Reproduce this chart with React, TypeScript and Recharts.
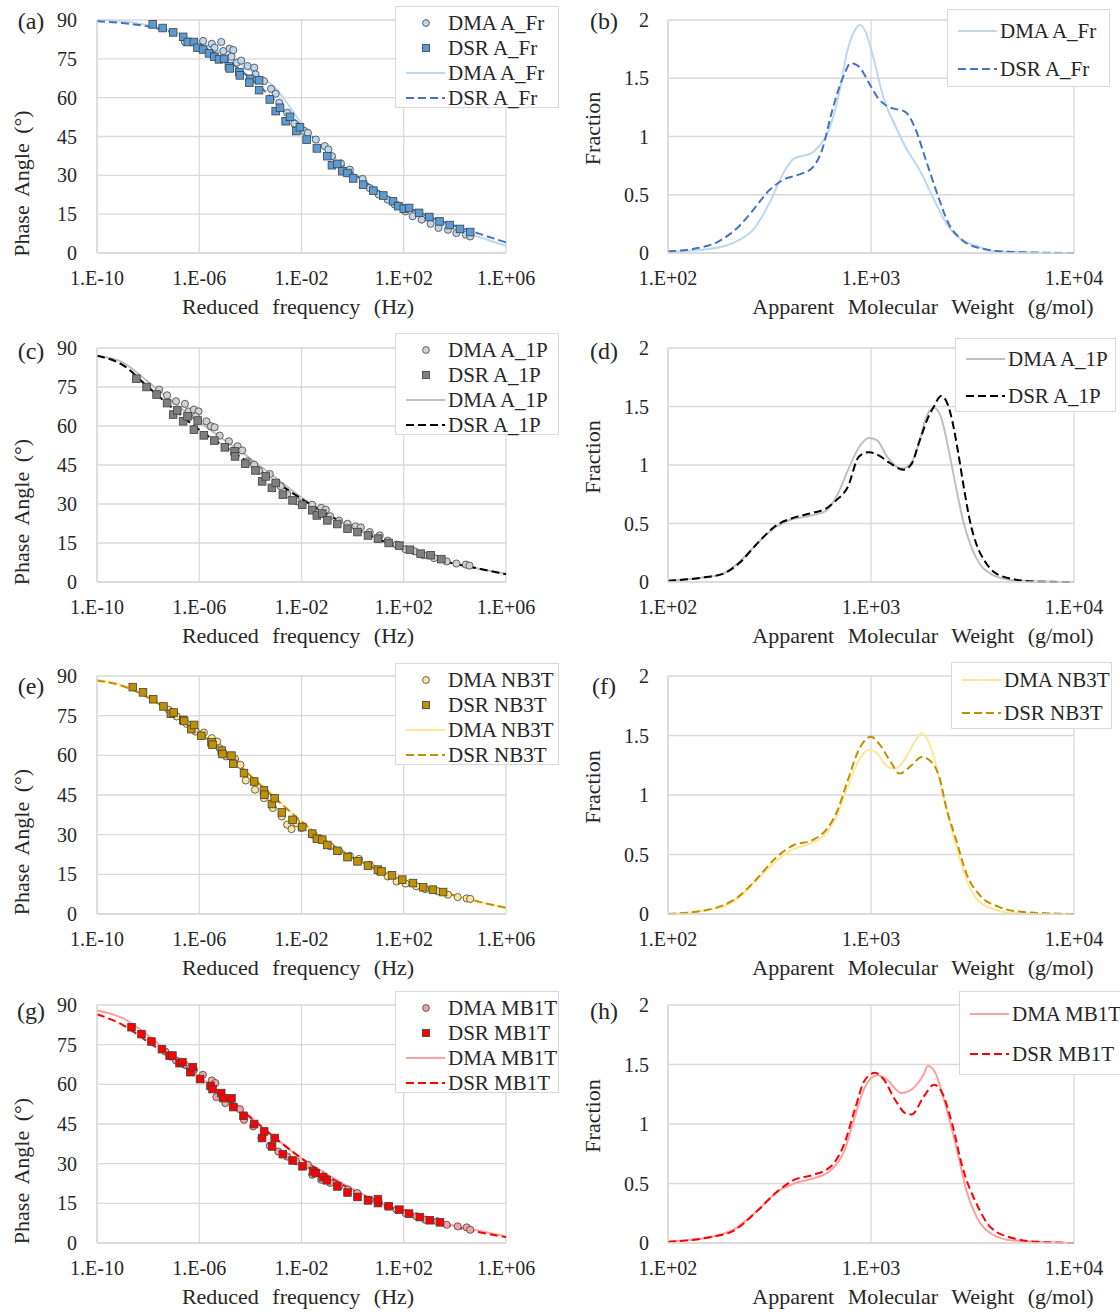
import React from 'react';
import { CartesianGrid, ComposedChart, Label, Line, Scatter, XAxis, YAxis } from 'recharts';

type Pt = [number, number];

// x = log10(reduced frequency, Hz), y = phase angle (deg)
const aFrDmaPoints: Pt[] = [
  [-6.56, 81.5], [-5.85, 81.9], [-5.51, 80.8], [-5.4, 79.3], [-5.14, 81.5], [-5.06, 78.0], [-4.81, 78.9],
  [-4.67, 78.4], [-4.74, 75.8], [-4.53, 73.5], [-4.36, 74.3], [-4.11, 72.2], [-3.85, 71.6], [-3.8, 69.0],
  [-3.47, 66.4], [-3.19, 63.4], [-3.01, 61.5], [-2.87, 58.0], [-2.56, 54.2], [-2.28, 50.0], [-1.89, 47.1],
  [-1.75, 46.4], [-1.44, 43.8], [-1.09, 41.3], [-0.95, 40.0], [-0.81, 37.4], [-0.46, 34.6], [-0.11, 32.2],
  [0.39, 28.6], [0.67, 25.1], [1.02, 22.6], [1.37, 20.6], [1.65, 18.7], [2.07, 16.1], [2.35, 14.2],
  [2.7, 12.9], [3.05, 11.3], [3.36, 9.7], [3.73, 9.0], [4.06, 7.7], [4.43, 7.1], [4.6, 6.4],
];
const aFrDsrPoints: Pt[] = [
  [-7.82, 88.3], [-7.43, 86.9], [-7.02, 85.2], [-6.63, 83.5], [-6.45, 81.5], [-6.21, 81.5], [-6.07, 79.3],
  [-5.85, 78.6], [-5.62, 77.1], [-5.41, 75.8], [-5.23, 74.8], [-5.03, 75.0], [-4.84, 72.2], [-4.81, 71.3],
  [-4.43, 69.9], [-4.41, 68.6], [-4.01, 67.3], [-4.04, 65.8], [-3.66, 66.7], [-3.66, 62.9], [-3.24, 59.3],
  [-3.01, 54.8], [-2.84, 56.1], [-2.62, 50.9], [-2.45, 52.6], [-2.2, 47.1], [-2.06, 48.6], [-1.8, 43.8],
  [-1.4, 40.4], [-0.99, 37.4], [-0.81, 33.9], [-0.6, 34.4], [-0.4, 31.6], [-0.2, 30.9], [0.02, 28.8],
  [0.41, 26.4], [0.81, 24.1], [1.2, 22.2], [1.58, 20.0], [1.79, 18.1], [2.0, 17.1], [2.21, 17.4],
  [2.6, 15.5], [3.0, 13.9], [3.4, 12.2], [3.8, 10.8], [4.2, 9.3], [4.6, 8.1],
];
const aFrDmaFit: Pt[] = [
  [-10, 90], [-9, 89.5], [-8, 88], [-7, 85.5], [-6, 81.5], [-5, 76.5], [-4, 70.5], [-3, 63.5], [-2.5, 57],
  [-2, 50], [-1.5, 44], [-1, 39.5], [-0.5, 35], [0, 31], [0.5, 27.5], [1, 24], [2, 18], [3, 13], [4, 9.5],
  [5, 6], [6, 2.8],
];
const aFrDsrFit: Pt[] = [
  [-10, 89.5], [-9, 88.8], [-8, 87.5], [-7, 85], [-6, 80.5], [-5, 75], [-4, 67.5], [-3, 58.5], [-2, 49],
  [-1, 39.5], [0, 31], [1, 24], [2, 18.5], [3, 14], [4, 10.5], [5, 7.3], [6, 4.1],
];

const a1pDmaPoints: Pt[] = [
  [-7.57, 74.0], [-7.26, 71.8], [-6.91, 69.5], [-6.56, 68.5], [-6.42, 65.6], [-6.21, 66.3], [-6.03, 65.6],
  [-6.14, 63.7], [-5.72, 61.8], [-5.54, 59.9], [-5.4, 59.5], [-5.2, 56.3], [-4.84, 54.1], [-4.5, 52.2],
  [-4.32, 50.6], [-4.11, 46.4], [-3.85, 45.1], [-3.66, 42.8], [-3.24, 41.5], [-2.81, 36.8], [-2.56, 33.8],
  [-2.17, 31.0], [-1.58, 29.7], [-1.23, 28.5], [-1.05, 27.8], [-0.88, 25.3], [-0.53, 23.6], [-0.2, 22.4],
  [0.11, 21.4], [0.32, 21.0], [0.67, 19.2], [1.06, 17.9], [1.37, 15.9], [1.72, 14.4], [2.07, 12.6],
  [2.42, 11.8], [2.77, 10.3], [3.19, 9.2], [3.68, 7.9], [4.06, 7.1], [4.43, 6.7], [4.57, 6.3],
];
const a1pDsrPoints: Pt[] = [
  [-8.46, 78.2], [-8.06, 75.0], [-7.67, 72.1], [-7.26, 68.8], [-7.02, 64.4], [-6.86, 66.0], [-6.63, 61.8],
  [-6.46, 63.7], [-6.21, 58.6], [-6.06, 62.1], [-5.82, 56.4], [-5.41, 54.4], [-5.0, 51.8], [-4.62, 50.3],
  [-4.6, 48.3], [-4.2, 45.5], [-3.8, 42.9], [-3.54, 38.7], [-3.4, 40.6], [-3.16, 36.2], [-3.01, 38.1],
  [-2.73, 33.6], [-2.35, 31.4], [-1.97, 29.7], [-1.58, 27.6], [-1.4, 25.6], [-1.19, 26.3], [-0.99, 23.7],
  [-0.6, 22.3], [-0.2, 20.5], [0.19, 19.2], [0.6, 17.9], [0.99, 16.7], [1.41, 15.0], [1.83, 14.0],
  [2.24, 12.4], [2.66, 10.9], [3.05, 10.3], [3.47, 8.8],
];
const a1pDmaFit: Pt[] = [
  [-10, 87], [-9, 84.5], [-8, 77], [-7, 69], [-6, 61.5], [-5, 54.5], [-4, 47.5], [-3, 40], [-2, 32.5],
  [-1, 26], [0, 21], [1, 16.5], [2, 12.5], [3, 9.5], [4, 7], [5, 5], [6, 3.2],
];
const a1pDsrFit: Pt[] = [
  [-10, 87], [-9, 83.5], [-8, 75], [-7, 66.5], [-6, 58.5], [-5, 52], [-4, 45.5], [-3, 38.5], [-2, 32],
  [-1, 26], [0, 21], [1, 16.5], [2, 12.5], [3, 9.5], [4, 7], [5, 5], [6, 3],
];

const nb3tDmaPoints: Pt[] = [
  [-7.19, 77.2], [-6.88, 74.7], [-6.49, 71.9], [-6.14, 69.0], [-5.82, 68.6], [-5.51, 66.5], [-5.3, 65.2],
  [-5.2, 62.7], [-4.95, 59.6], [-4.6, 58.6], [-4.39, 56.4], [-4.18, 50.5], [-3.82, 47.0], [-3.47, 43.8],
  [-3.12, 40.1], [-2.77, 36.9], [-2.56, 33.8], [-2.39, 32.1], [-2.21, 34.4], [-2.0, 32.5], [-1.58, 30.0],
  [-1.23, 28.3], [-0.88, 25.6], [-0.53, 23.7], [-0.11, 22.0], [0.25, 20.8], [0.67, 18.6], [1.02, 16.1],
  [1.37, 14.2], [1.72, 12.3], [2.07, 11.5], [2.49, 10.5], [2.84, 9.4], [3.33, 8.6], [3.73, 7.3],
  [4.11, 6.4], [4.46, 5.9], [4.6, 5.7],
];
const nb3tDsrPoints: Pt[] = [
  [-8.6, 85.8], [-8.2, 83.8], [-7.8, 81.2], [-7.4, 78.5], [-7.11, 75.7], [-7.0, 76.2], [-6.63, 73.4],
  [-6.59, 73.0], [-6.31, 69.9], [-6.2, 71.5], [-5.92, 67.4], [-5.52, 64.9], [-5.48, 64.0], [-5.12, 61.8],
  [-5.09, 60.5], [-4.74, 59.9], [-4.67, 56.8], [-4.25, 53.3], [-3.85, 50.1], [-3.47, 46.7], [-3.45, 45.1],
  [-3.16, 41.6], [-3.05, 43.8], [-2.77, 38.4], [-2.35, 35.6], [-1.97, 32.9], [-1.58, 30.4], [-1.4, 28.5],
  [-1.19, 28.1], [-0.99, 26.1], [-0.6, 23.9], [-0.2, 21.5], [0.19, 19.9], [0.6, 18.3], [0.99, 16.8],
  [1.13, 16.1], [1.54, 14.6], [1.94, 13.0], [2.36, 11.7], [2.76, 10.1], [3.14, 9.2], [3.54, 8.3],
];
const nb3tDmaFit: Pt[] = [
  [-10, 88.5], [-9, 86.5], [-8, 82], [-7, 76], [-6, 68.5], [-5, 61], [-4, 52.5], [-3, 44], [-2, 35],
  [-1, 27.5], [0, 21.5], [1, 16.5], [2, 12.5], [3, 9.5], [4, 7], [5, 4.5], [6, 2.5],
];
const nb3tDsrFit: Pt[] = [
  [-10, 88.3], [-9, 86.2], [-8, 81.8], [-7, 75.8], [-6, 68.5], [-5, 61], [-4, 52.3], [-3, 43.5], [-2, 35],
  [-1, 27.5], [0, 21.5], [1, 16.5], [2, 12.5], [3, 9.5], [4, 7], [5, 4.5], [6, 2.3],
];

const mb1tDmaPoints: Pt[] = [
  [-7.33, 72.4], [-7.12, 70.5], [-6.91, 69.0], [-6.56, 67.4], [-6.21, 65.5], [-5.86, 63.6], [-5.51, 61.5],
  [-5.37, 60.5], [-5.33, 55.2], [-4.98, 52.9], [-4.6, 51.4], [-4.41, 50.6], [-4.25, 46.6], [-3.89, 44.1],
  [-3.57, 39.7], [-3.24, 36.8], [-2.91, 34.6], [-2.56, 32.7], [-2.21, 30.9], [-1.75, 29.6], [-1.58, 25.8],
  [-1.23, 23.9], [-0.88, 22.7], [-0.53, 21.4], [-0.18, 20.2], [0.18, 18.9], [0.67, 16.4], [1.02, 15.1],
  [1.37, 13.9], [1.72, 12.6], [2.07, 11.3], [2.49, 10.1], [2.84, 8.8], [3.31, 8.2], [3.68, 6.9],
  [4.11, 6.3], [4.46, 5.9], [4.6, 5.0],
];
const mb1tDsrPoints: Pt[] = [
  [-8.65, 81.6], [-8.26, 79.0], [-7.87, 76.2], [-7.46, 73.3], [-7.16, 70.8], [-7.05, 70.9], [-6.77, 68.0],
  [-6.66, 68.4], [-6.35, 64.6], [-6.25, 66.5], [-5.97, 62.0], [-5.56, 59.4], [-5.48, 58.2], [-5.14, 56.7],
  [-5.06, 54.8], [-4.74, 54.7], [-4.67, 51.4], [-4.27, 48.1], [-3.85, 45.0], [-3.54, 39.7], [-3.46, 42.2],
  [-3.15, 36.5], [-3.05, 39.7], [-2.73, 33.6], [-2.35, 31.2], [-1.96, 29.0], [-1.55, 27.1], [-1.44, 26.4],
  [-1.16, 24.9], [-1.01, 23.7], [-0.6, 21.4], [-0.2, 19.1], [0.19, 17.4], [0.6, 16.1], [0.99, 15.1],
  [0.99, 16.6], [1.41, 13.9], [1.83, 12.6], [2.21, 11.1], [2.63, 9.8], [3.02, 8.6], [3.42, 7.8],
];
const mb1tDmaFit: Pt[] = [
  [-10, 88], [-9, 85], [-8, 78.5], [-7, 70.5], [-6, 63], [-5, 55.5], [-4, 47.5], [-3, 39.5], [-2, 32],
  [-1, 26], [0, 20.5], [1, 15.5], [2, 12], [3, 9], [4, 6.5], [5, 4.5], [6, 2.5],
];
const mb1tDsrFit: Pt[] = [
  [-10, 86.5], [-9, 82.5], [-8, 76], [-7, 69.5], [-6, 62], [-5, 55], [-4, 47.5], [-3, 39.5], [-2, 32],
  [-1, 25.5], [0, 20], [1, 15.5], [2, 11.5], [3, 8.5], [4, 6], [5, 4], [6, 2.2],
];

// x = log10(apparent molecular weight, g/mol), y = fraction
const aFrDmaMw: Pt[] = [
  [2.0, 0.01], [2.18, 0.03], [2.28, 0.06], [2.35, 0.11], [2.42, 0.2], [2.5, 0.43], [2.57, 0.69], [2.62, 0.81],
  [2.71, 0.86], [2.74, 0.91], [2.8, 1.09], [2.85, 1.43], [2.88, 1.71], [2.92, 1.91], [2.945, 1.96], [2.97, 1.91],
  [3.01, 1.69], [3.06, 1.34], [3.12, 1.09], [3.17, 0.91], [3.24, 0.71], [3.31, 0.46], [3.38, 0.23], [3.45, 0.11],
  [3.52, 0.06], [3.59, 0.02], [3.77, 0.005], [4.0, 0],
];
const aFrDsrMw: Pt[] = [
  [2.0, 0.014], [2.14, 0.04], [2.25, 0.1], [2.35, 0.23], [2.42, 0.37], [2.5, 0.54], [2.57, 0.63], [2.64, 0.67],
  [2.71, 0.73], [2.76, 0.89], [2.81, 1.23], [2.87, 1.54], [2.9, 1.63], [2.94, 1.6], [2.99, 1.46], [3.03, 1.34],
  [3.08, 1.26], [3.17, 1.21], [3.22, 1.06], [3.27, 0.8], [3.33, 0.49], [3.38, 0.26], [3.45, 0.11], [3.54, 0.04],
  [3.68, 0.01], [4.0, 0],
];
const a1pDmaMw: Pt[] = [
  [2.0, 0.01], [2.18, 0.04], [2.27, 0.07], [2.35, 0.17], [2.44, 0.33], [2.53, 0.47], [2.6, 0.53], [2.71, 0.57],
  [2.78, 0.61], [2.83, 0.73], [2.885, 0.95], [2.94, 1.15], [2.99, 1.23], [3.03, 1.21], [3.08, 1.07], [3.15, 0.97],
  [3.195, 1.01], [3.24, 1.21], [3.27, 1.4], [3.31, 1.49], [3.345, 1.41], [3.38, 1.15], [3.42, 0.8], [3.45, 0.55],
  [3.49, 0.32], [3.52, 0.2], [3.59, 0.07], [3.68, 0.02], [3.77, 0.006], [4.0, 0],
];
const a1pDsrMw: Pt[] = [
  [2.0, 0.01], [2.18, 0.04], [2.27, 0.07], [2.35, 0.16], [2.44, 0.33], [2.53, 0.48], [2.62, 0.55], [2.71, 0.59],
  [2.78, 0.63], [2.83, 0.7], [2.885, 0.81], [2.94, 1.07], [2.99, 1.11], [3.04, 1.08], [3.09, 1.02], [3.16, 0.96],
  [3.2, 1.01], [3.24, 1.21], [3.28, 1.4], [3.31, 1.5], [3.345, 1.59], [3.37, 1.55], [3.4, 1.38], [3.43, 1.1],
  [3.46, 0.78], [3.49, 0.5], [3.52, 0.32], [3.56, 0.18], [3.61, 0.08], [3.7, 0.025], [3.82, 0.003], [4.0, 0],
];
const nb3tDmaMw: Pt[] = [
  [2.0, 0], [2.18, 0.03], [2.27, 0.06], [2.35, 0.14], [2.44, 0.29], [2.53, 0.44], [2.6, 0.53], [2.71, 0.6],
  [2.78, 0.68], [2.83, 0.82], [2.885, 1.07], [2.94, 1.29], [2.99, 1.38], [3.03, 1.35], [3.08, 1.24], [3.12, 1.22],
  [3.17, 1.31], [3.22, 1.46], [3.25, 1.52], [3.27, 1.49], [3.31, 1.32], [3.345, 1.07], [3.38, 0.82], [3.42, 0.57],
  [3.47, 0.29], [3.52, 0.13], [3.59, 0.05], [3.7, 0.01], [4.0, 0],
];
const nb3tDsrMw: Pt[] = [
  [2.0, 0], [2.18, 0.03], [2.35, 0.15], [2.44, 0.3], [2.53, 0.47], [2.62, 0.58], [2.71, 0.62], [2.78, 0.71],
  [2.83, 0.85], [2.885, 1.12], [2.94, 1.38], [3.0, 1.49], [3.04, 1.43], [3.1, 1.27], [3.14, 1.18], [3.2, 1.25],
  [3.25, 1.32], [3.29, 1.29], [3.34, 1.13], [3.37, 0.9], [3.42, 0.62], [3.47, 0.34], [3.54, 0.15], [3.63, 0.06],
  [3.73, 0.02], [4.0, 0],
];
const mb1tDmaMw: Pt[] = [
  [2.0, 0.01], [2.21, 0.05], [2.32, 0.11], [2.44, 0.27], [2.53, 0.42], [2.62, 0.5], [2.71, 0.54], [2.8, 0.61],
  [2.87, 0.78], [2.92, 1.06], [2.97, 1.31], [3.03, 1.41], [3.08, 1.37], [3.15, 1.26], [3.2, 1.29], [3.26, 1.42],
  [3.28, 1.49], [3.32, 1.42], [3.36, 1.2], [3.42, 0.81], [3.47, 0.44], [3.52, 0.22], [3.59, 0.08], [3.7, 0.02],
  [4.0, 0],
];
const mb1tDsrMw: Pt[] = [
  [2.0, 0.01], [2.21, 0.05], [2.32, 0.1], [2.44, 0.27], [2.53, 0.42], [2.62, 0.53], [2.71, 0.57], [2.8, 0.64],
  [2.87, 0.84], [2.92, 1.12], [2.97, 1.37], [3.02, 1.43], [3.06, 1.38], [3.12, 1.2], [3.17, 1.09], [3.2, 1.08],
  [3.26, 1.23], [3.31, 1.33], [3.345, 1.28], [3.4, 1.0], [3.45, 0.64], [3.52, 0.33], [3.59, 0.13], [3.7, 0.04],
  [3.82, 0.01], [4.0, 0],
];

const freqTicks = [-10, -6, -2, 2, 6];
const angleTicks = [0, 15, 30, 45, 60, 75, 90];
const mwTicks = [2, 3, 4];
const fractionTicks = [0, 0.5, 1, 1.5, 2];

const FONT = '"Liberation Serif", "Times New Roman", serif';
const TEXT = '#262626';
const GRID = '#D9D9D9';
const EDGE = '#404040';
const DASH = '8 4';

const toXY = (pts: Pt[]) => pts.map(([x, y]) => ({ x, y }));
const expLabel = (v: number) => `1.E${v < 0 ? '-' : '+'}${String(Math.abs(v)).padStart(2, '0')}`;

type Sample = {
  letter: string;
  mwLetter: string;
  name: string;
  dmaPoints: Pt[];
  dsrPoints: Pt[];
  dmaFit: Pt[];
  dsrFit: Pt[];
  dmaMw: Pt[];
  dsrMw: Pt[];
  dmaFill: string;
  dsrFill: string;
  dmaLine: string;
  dsrLine: string;
};

const samples: Sample[] = [
  {
    letter: '(a)', mwLetter: '(b)', name: 'A_Fr',
    dmaPoints: aFrDmaPoints, dsrPoints: aFrDsrPoints, dmaFit: aFrDmaFit, dsrFit: aFrDsrFit,
    dmaMw: aFrDmaMw, dsrMw: aFrDsrMw,
    dmaFill: '#BDD7EE', dsrFill: '#5B9BD5', dmaLine: '#BDD7EE', dsrLine: '#4472C4',
  },
  {
    letter: '(c)', mwLetter: '(d)', name: 'A_1P',
    dmaPoints: a1pDmaPoints, dsrPoints: a1pDsrPoints, dmaFit: a1pDmaFit, dsrFit: a1pDsrFit,
    dmaMw: a1pDmaMw, dsrMw: a1pDsrMw,
    dmaFill: '#D0D0D0', dsrFill: '#7F7F7F', dmaLine: '#BFBFBF', dsrLine: '#000000',
  },
  {
    letter: '(e)', mwLetter: '(f)', name: 'NB3T',
    dmaPoints: nb3tDmaPoints, dsrPoints: nb3tDsrPoints, dmaFit: nb3tDmaFit, dsrFit: nb3tDsrFit,
    dmaMw: nb3tDmaMw, dsrMw: nb3tDsrMw,
    dmaFill: '#FFE699', dsrFill: '#BF9000', dmaLine: '#FFE699', dsrLine: '#BF9000',
  },
  {
    letter: '(g)', mwLetter: '(h)', name: 'MB1T',
    dmaPoints: mb1tDmaPoints, dsrPoints: mb1tDsrPoints, dmaFit: mb1tDmaFit, dsrFit: mb1tDsrFit,
    dmaMw: mb1tDmaMw, dsrMw: mb1tDsrMw,
    dmaFill: '#F4A3A3', dsrFill: '#FF0000', dmaLine: '#FF9F9F', dsrLine: '#FF0000',
  },
];

// plot area top / bottom per row (page px)
const rowTops = [20, 348, 676, 1005];
const rowBottoms = [253, 582, 914, 1243];
const letterY = [21, 351, 686, 1011];
const phaseLegendTops = [6, 333, 663, 991];
const mwLegends = [
  { left: 947, top: 9, width: 163, height: 78, rows: [21, 59] },
  { left: 955, top: 338, width: 161, height: 74, rows: [20, 57] },
  { left: 951, top: 662, width: 161, height: 67, rows: [17, 50] },
  { left: 959, top: 991, width: 165, height: 84, rows: [22, 62] },
];

const tickStyle = { fontSize: 20, fill: TEXT, fontFamily: FONT };
const titleStyle = { fontSize: 22, fill: TEXT, fontFamily: FONT, wordSpacing: '8px' };

function circleShape(fill: string) {
  return (props: any) => (
    <circle cx={props.cx} cy={props.cy} r={3.6} fill={fill} stroke={EDGE} strokeWidth={0.8} />
  );
}

function squareShape(fill: string) {
  return (props: any) => (
    <rect x={props.cx - 3.8} y={props.cy - 3.8} width={7.6} height={7.6} fill={fill} stroke={EDGE} strokeWidth={0.8} />
  );
}

function xTitle(text: string, cx: number, cy: number) {
  return () => (
    <text x={cx} y={cy} textAnchor="middle" dominantBaseline="central" style={titleStyle}>
      {text}
    </text>
  );
}

function yTitle(text: string, cx: number, cy: number) {
  return () => (
    <text
      x={cx}
      y={cy}
      transform={`rotate(-90, ${cx}, ${cy})`}
      textAnchor="middle"
      dominantBaseline="central"
      style={{ ...titleStyle, wordSpacing: '4px' }}
    >
      {text}
    </text>
  );
}

function PhasePanel({ s, row }: { s: Sample; row: number }) {
  const plotH = rowBottoms[row] - rowTops[row];
  const height = 20 + plotH + 75;
  const bottom = 20 + plotH;
  return (
    <div style={{ position: 'absolute', left: 0, top: rowTops[row] - 20 }}>
      <ComposedChart width={560} height={height} margin={{ top: 20, right: 54, bottom: 0, left: 0 }}>
        <CartesianGrid stroke={GRID} strokeWidth={1.3} />
        <XAxis
          type="number"
          dataKey="x"
          domain={[-10, 6]}
          ticks={freqTicks}
          interval={0}
          tickFormatter={expLabel}
          tick={tickStyle}
          tickLine={false}
          tickSize={0}
          tickMargin={18}
          axisLine={{ stroke: GRID, strokeWidth: 1.3 }}
          height={75}
        >
          <Label content={xTitle('Reduced frequency (Hz)', 298, bottom + 53)} />
        </XAxis>
        <YAxis
          type="number"
          dataKey="y"
          domain={[0, 90]}
          ticks={angleTicks}
          interval={0}
          tick={tickStyle}
          tickLine={false}
          tickSize={0}
          tickMargin={20}
          axisLine={{ stroke: GRID, strokeWidth: 1.3 }}
          width={97}
        >
          <Label content={yTitle('Phase Angle (°)', 21, 20 + plotH / 2 + 47)} />
        </YAxis>
        <Scatter data={toXY(s.dmaPoints)} shape={circleShape(s.dmaFill)} isAnimationActive={false} />
        <Scatter data={toXY(s.dsrPoints)} shape={squareShape(s.dsrFill)} isAnimationActive={false} />
        <Line data={toXY(s.dmaFit)} dataKey="y" type="monotone" stroke={s.dmaLine} strokeWidth={2} dot={false} isAnimationActive={false} />
        <Line data={toXY(s.dsrFit)} dataKey="y" type="monotone" stroke={s.dsrLine} strokeWidth={2} strokeDasharray={DASH} dot={false} isAnimationActive={false} />
      </ComposedChart>
    </div>
  );
}

function MwPanel({ s, row }: { s: Sample; row: number }) {
  const plotH = rowBottoms[row] - rowTops[row];
  const height = 20 + plotH + 75;
  const bottom = 20 + plotH;
  return (
    <div style={{ position: 'absolute', left: 560, top: rowTops[row] - 20 }}>
      <ComposedChart width={560} height={height} margin={{ top: 20, right: 46, bottom: 0, left: 0 }}>
        <CartesianGrid stroke={GRID} strokeWidth={1.3} />
        <XAxis
          type="number"
          dataKey="x"
          domain={[2, 4]}
          ticks={mwTicks}
          interval={0}
          tickFormatter={expLabel}
          tick={tickStyle}
          tickLine={false}
          tickSize={0}
          tickMargin={18}
          axisLine={{ stroke: GRID, strokeWidth: 1.3 }}
          height={75}
        >
          <Label content={xTitle('Apparent Molecular Weight (g/mol)', 363, bottom + 53)} />
        </XAxis>
        <YAxis
          type="number"
          dataKey="y"
          domain={[0, 2]}
          ticks={fractionTicks}
          interval={0}
          tick={tickStyle}
          tickLine={false}
          tickSize={0}
          tickMargin={19}
          axisLine={{ stroke: GRID, strokeWidth: 1.3 }}
          width={108}
        >
          <Label content={yTitle('Fraction', 32, 20 + plotH / 2 - 8)} />
        </YAxis>
        <Line data={toXY(s.dmaMw)} dataKey="y" type="monotone" stroke={s.dmaLine} strokeWidth={2} dot={false} isAnimationActive={false} />
        <Line data={toXY(s.dsrMw)} dataKey="y" type="monotone" stroke={s.dsrLine} strokeWidth={2} strokeDasharray={DASH} dot={false} isAnimationActive={false} />
      </ComposedChart>
    </div>
  );
}

type LegendKind = 'circle' | 'square' | 'solid' | 'dash';

function LegendSymbol({ kind, color }: { kind: LegendKind; color: string }) {
  return (
    <svg width={42} height={20} style={{ position: 'absolute', left: 9, top: -10 }}>
      {kind === 'circle' && <circle cx={21} cy={10} r={3.4} fill={color} stroke={EDGE} strokeWidth={0.8} />}
      {kind === 'square' && <rect x={17.4} y={6.4} width={7.2} height={7.2} fill={color} stroke={EDGE} strokeWidth={0.8} />}
      {kind === 'solid' && <line x1={1} x2={40} y1={10} y2={10} stroke={color} strokeWidth={2} />}
      {kind === 'dash' && <line x1={1} x2={40} y1={10} y2={10} stroke={color} strokeWidth={2} strokeDasharray={DASH} />}
    </svg>
  );
}

type LegendItem = { kind: LegendKind; color: string; label: string };

function LegendBox({ left, top, width, height, rows, items }: {
  left: number; top: number; width: number; height: number; rows: number[]; items: LegendItem[];
}) {
  return (
    <div
      style={{
        position: 'absolute', left, top, width, height, boxSizing: 'border-box',
        border: `1.3px solid ${GRID}`, background: '#fff', fontFamily: FONT, fontSize: 21, color: TEXT,
      }}
    >
      {items.map((it, i) => (
        <div key={i} style={{ position: 'absolute', left: 0, top: rows[i], width: '100%' }}>
          <LegendSymbol kind={it.kind} color={it.color} />
          <span style={{ position: 'absolute', left: 52, top: -12, lineHeight: '24px', whiteSpace: 'nowrap' }}>
            {it.label}
          </span>
        </div>
      ))}
    </div>
  );
}

function PanelLetter({ text, x, y }: { text: string; x: number; y: number }) {
  return (
    <div
      style={{
        position: 'absolute', left: x, top: y, transform: 'translate(-50%, -50%)',
        fontFamily: FONT, fontSize: 24, lineHeight: 1, color: TEXT,
      }}
    >
      {text}
    </div>
  );
}

export default function App() {
  return (
    <div style={{ position: 'absolute', left: 0, top: 0, width: 1120, height: 1315, background: '#fff', overflow: 'hidden' }}>
      {samples.map((s, row) => (
        <React.Fragment key={s.name}>
          <PhasePanel s={s} row={row} />
          <MwPanel s={s} row={row} />
          <PanelLetter text={s.letter} x={31} y={letterY[row]} />
          <PanelLetter text={s.mwLetter} x={604} y={letterY[row]} />
          <LegendBox
            left={395}
            top={phaseLegendTops[row]}
            width={164}
            height={102}
            rows={[15.5, 40.5, 65.5, 90.5]}
            items={[
              { kind: 'circle', color: s.dmaFill, label: `DMA ${s.name}` },
              { kind: 'square', color: s.dsrFill, label: `DSR ${s.name}` },
              { kind: 'solid', color: s.dmaLine, label: `DMA ${s.name}` },
              { kind: 'dash', color: s.dsrLine, label: `DSR ${s.name}` },
            ]}
          />
          <LegendBox
            {...mwLegends[row]}
            items={[
              { kind: 'solid', color: s.dmaLine, label: `DMA ${s.name}` },
              { kind: 'dash', color: s.dsrLine, label: `DSR ${s.name}` },
            ]}
          />
        </React.Fragment>
      ))}
    </div>
  );
}
